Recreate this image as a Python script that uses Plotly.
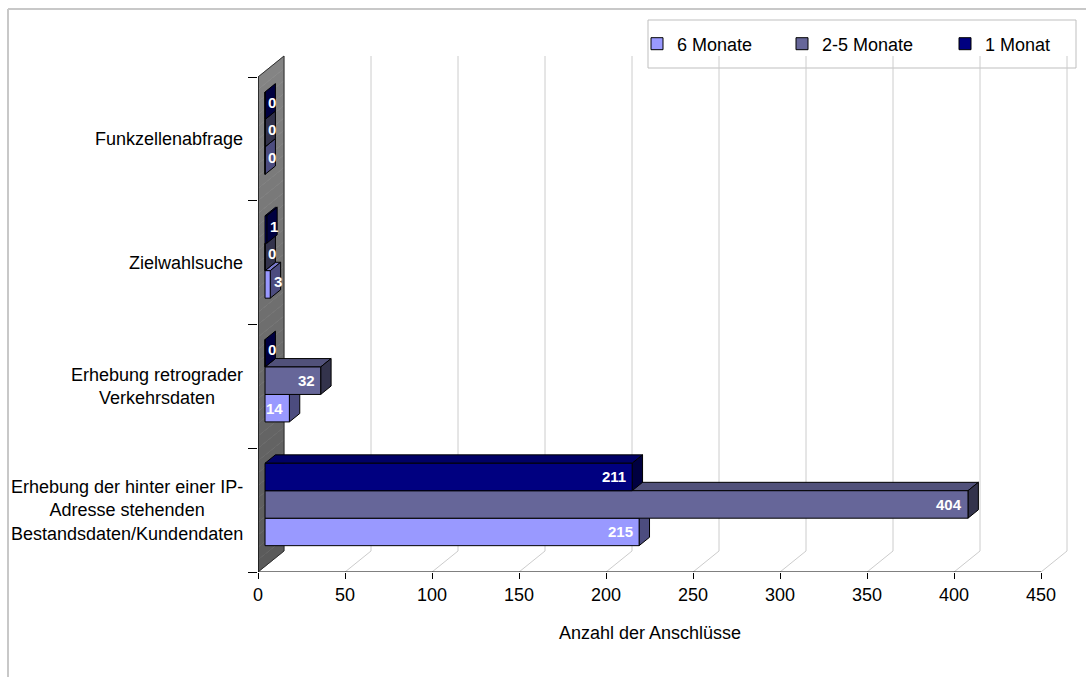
import plotly.graph_objects as go

# ---- data -------------------------------------------------------------
categories = [
    "Erhebung der hinter einer IP-<br>Adresse stehenden<br>Bestandsdaten/Kundendaten",
    "Erhebung retrograder<br>Verkehrsdaten",
    "Zielwahlsuche",
    "Funkzellenabfrage",
]
series_names = ["6 Monate", "2-5 Monate", "1 Monat"]
months_6 = [215, 14, 3, 0]
months_2_5 = [404, 32, 0, 0]
month_1 = [211, 0, 1, 0]
series_values = [months_6, months_2_5, month_1]
series_colors = ["#9999FF", "#666699", "#000080"]
x_ticks = [0, 50, 100, 150, 200, 250, 300, 350, 400, 450]
x_title = "Anzahl der Anschlüsse"

# ---- page geometry (pixels) -------------------------------------------
W, H = 1086, 677
PL, PR, PT, PB = 258, 1070, 20, 572
PX_PER_X = 1.74          # pixels per value unit
PX_PER_CAT = 123.75      # pixels per category band
X_RANGE = (PR - PL) / PX_PER_X
Y_RANGE = (PB - PT) / PX_PER_CAT

# 3-D look: depth of the side wall, and where the bars sit inside it
WALL_DX = 26 / PX_PER_X
WALL_DY = 21 / PX_PER_CAT
BAR_FRONT = 0.27
BAR_DEPTH = 0.40
BAR_H = 0.222
FONT = "Liberation Sans, Arial, sans-serif"


def shade(hex_color, f):
    r, g, b = (int(hex_color[i:i + 2], 16) for i in (1, 3, 5))
    return "#%02x%02x%02x" % (int(r * f), int(g * f), int(b * f))


def px_x(px):
    return (px - PL) / (PR - PL)


def px_y(py):
    return (PB - py) / (PB - PT)


n_cat = len(categories)
fx = BAR_FRONT * WALL_DX
fy = BAR_FRONT * WALL_DY
ddx = BAR_DEPTH * WALL_DX
ddy = BAR_DEPTH * WALL_DY

shapes = []

# side wall with a soft vertical gradient
n_strips = 40
for j in range(n_strips):
    ya = n_cat * j / n_strips
    yb = n_cat * (j + 1) / n_strips
    t = j / (n_strips - 1)
    c = int(0x5a + (0x84 - 0x5a) * t)
    col = "#%02x%02x%02x" % (c, c, c)
    shapes.append(dict(
        type="path", xref="x", yref="y", layer="below",
        path=f"M 0,{ya} L {WALL_DX},{ya + WALL_DY} L {WALL_DX},{yb + WALL_DY} L 0,{yb} Z",
        fillcolor=col, line=dict(width=0.6, color=col)))
shapes.append(dict(
    type="path", xref="x", yref="y", layer="below",
    path=f"M 0,0 L {WALL_DX},{WALL_DY} L {WALL_DX},{n_cat + WALL_DY} L 0,{n_cat} Z",
    line=dict(width=1, color="#303030")))

# gridlines on the back wall and across the floor
for v in x_ticks[1:]:
    shapes.append(dict(
        type="path", xref="x", yref="y", layer="below",
        path=f"M {v},0 L {v + WALL_DX},{WALL_DY} L {v + WALL_DX},{n_cat + WALL_DY}",
        line=dict(width=1, color="#CCCCCC")))

# axis lines
shapes.append(dict(type="line", xref="x", yref="y", layer="below",
                   x0=0, y0=0, x1=x_ticks[-1], y1=0, line=dict(width=1, color="black")))
shapes.append(dict(type="line", xref="x", yref="y", layer="below",
                   x0=0, y0=0, x1=0, y1=n_cat, line=dict(width=1, color="black")))

# top and end faces of every bar
annotations = []
for i in range(n_cat):
    for k, (vals, col) in enumerate(zip(series_values, series_colors)):
        v = vals[i]
        c = i + 0.5 + fy + (k - 1) * BAR_H
        x0, x1 = fx, fx + v
        yb, yt = c - BAR_H / 2, c + BAR_H / 2
        if v > 0:
            shapes.append(dict(
                type="path", xref="x", yref="y", layer="below",
                path=f"M {x0},{yt} L {x1},{yt} L {x1 + ddx},{yt + ddy} L {x0 + ddx},{yt + ddy} Z",
                fillcolor=shade(col, 0.8), line=dict(width=1, color="black")))
        shapes.append(dict(
            type="path", xref="x", yref="y", layer="below",
            path=f"M {x1},{yb} L {x1 + ddx},{yb + ddy} L {x1 + ddx},{yt + ddy} L {x1},{yt} Z",
            fillcolor=shade(col, 0.5), line=dict(width=1, color="black")))
        if v >= 10:
            annotations.append(dict(
                x=x1, y=c, xref="x", yref="y", xanchor="right", yanchor="middle",
                xshift=-4, text=f"<b>{v}</b>", showarrow=False,
                font=dict(family=FONT, size=15, color="white")))
        else:
            annotations.append(dict(
                x=x1 + 0.7 * ddx, y=c + 0.4 * ddy, xref="x", yref="y",
                xanchor="center", yanchor="middle", text=f"<b>{v}</b>", showarrow=False,
                font=dict(family=FONT, size=15, color="white")))

# legend frame
shapes.append(dict(type="rect", xref="paper", yref="paper", layer="below",
                   x0=px_x(648), x1=px_x(1076), y0=px_y(68), y1=px_y(20),
                   fillcolor="white", line=dict(width=1, color="#BFBFBF")))

# outer chart frame (left and top edges)
shapes.append(dict(type="line", xref="paper", yref="paper",
                   x0=px_x(8), x1=px_x(8), y0=px_y(9), y1=px_y(H),
                   line=dict(width=2, color="#C8C8C8")))
shapes.append(dict(type="line", xref="paper", yref="paper",
                   x0=px_x(8), x1=px_x(W), y0=px_y(9), y1=px_y(9),
                   line=dict(width=2, color="#C8C8C8")))

# category labels
for i, cat in enumerate(categories):
    annotations.append(dict(
        x=0, y=i + 0.5, xref="x", yref="y", xanchor="right", yanchor="middle",
        xshift=-13, text=cat, align="center", showarrow=False,
        font=dict(family=FONT, size=18, color="black")))

# value-axis title
annotations.append(dict(
    x=(x_ticks[0] + x_ticks[-1]) / 2, y=0, xref="x", yref="paper",
    xanchor="center", yanchor="middle", yshift=-61, text=x_title, showarrow=False,
    font=dict(family=FONT, size=18, color="black")))

fig = go.Figure()
legend_ids = ["legend", "legend2", "legend3"]
for k, (name, vals, col) in enumerate(zip(series_names, series_values, series_colors)):
    centers = [i + 0.5 + fy + (k - 1) * BAR_H for i in range(n_cat)]
    fig.add_trace(go.Bar(
        name=name, x=vals, y=centers, base=fx, orientation="h", width=BAR_H,
        marker=dict(color=col, line=dict(color="black", width=1)),
        legend=legend_ids[k], hoverinfo="x+name"))

legend_text_px = [677, 822, 985]
legend_common = dict(
    orientation="h", yanchor="middle", xanchor="left", y=px_y(44),
    bgcolor="rgba(0,0,0,0)", borderwidth=0,
    font=dict(family=FONT, size=18, color="black"))
layout_legends = {}
for lid, tx in zip(legend_ids, legend_text_px):
    layout_legends[lid] = dict(legend_common, x=px_x(tx - 40))

fig.update_layout(
    width=W, height=H, autosize=False,
    margin=dict(l=PL, r=W - PR, t=PT, b=H - PB, pad=0),
    paper_bgcolor="white", plot_bgcolor="white",
    barmode="overlay", showlegend=True,
    font=dict(family=FONT, size=18, color="black"),
    xaxis=dict(range=[0, X_RANGE], tickvals=x_ticks, ticks="outside", ticklen=6,
               tickwidth=1, tickcolor="black", showline=False, showgrid=False,
               zeroline=False, tickfont=dict(family=FONT, size=18, color="black"),
               fixedrange=True),
    yaxis=dict(range=[0, Y_RANGE], tickvals=list(range(n_cat + 1)), ticks="outside",
               ticklen=9, tickwidth=1, tickcolor="black", showticklabels=False,
               showline=False, showgrid=False, zeroline=False, fixedrange=True),
    shapes=shapes, annotations=annotations,
    **layout_legends,
)

fig.write_html("out.html", config={"displayModeBar": False})
